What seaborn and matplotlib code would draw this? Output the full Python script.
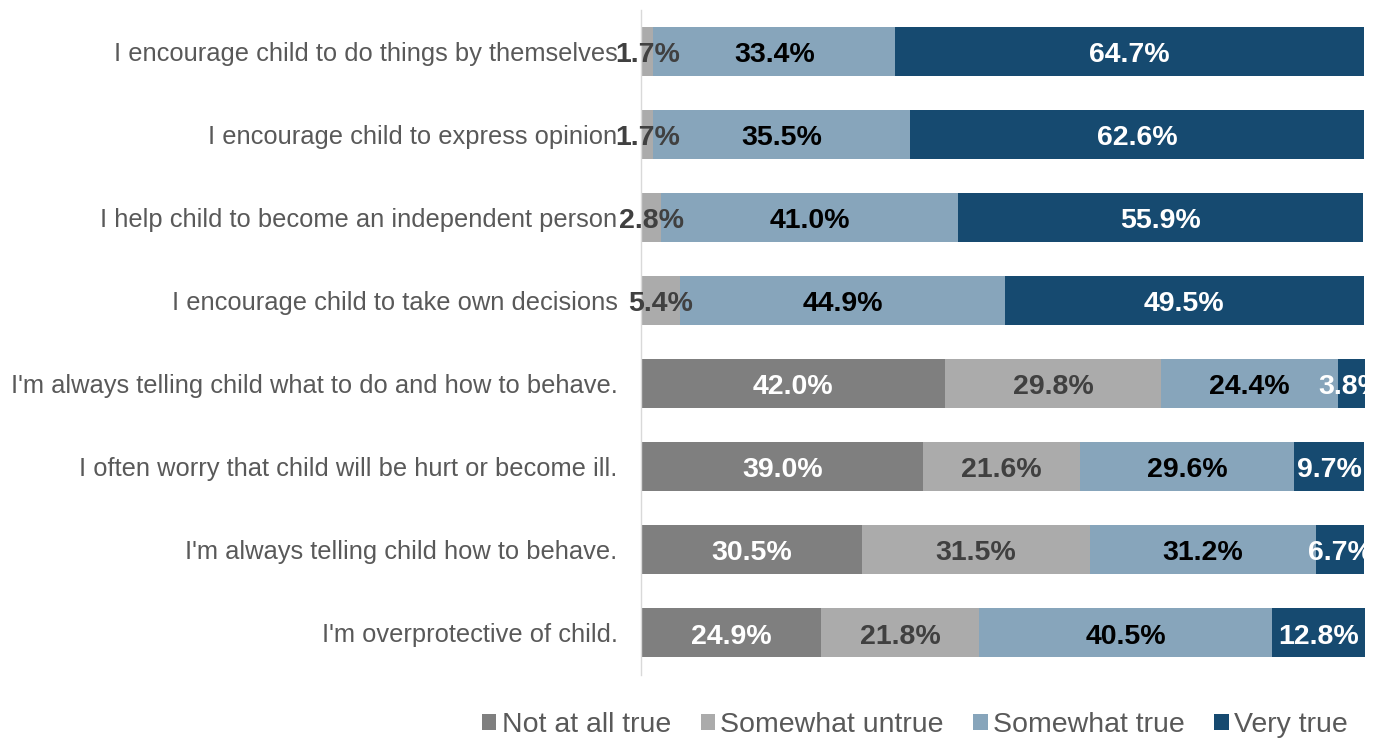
import numpy as np
import pandas as pd
import seaborn as sns
import matplotlib.pyplot as plt
from matplotlib.patches import Patch
from matplotlib.transforms import Bbox, TransformedBbox

# Survey items (top to bottom)
items = [
    "I encourage child to do things by themselves",
    "I encourage child to express opinion",
    "I help child to become an independent person",
    "I encourage child to take own decisions",
    "I'm always telling child what to do and how to behave.",
    "I often worry that child will be hurt or become ill.",
    "I'm always telling child how to behave.",
    "I'm overprotective of child.",
]

responses = ["Not at all true", "Somewhat untrue", "Somewhat true", "Very true"]

# Percent of respondents per response level
not_at_all_true = [0.0, 0.0, 0.0, 0.0, 42.0, 39.0, 30.5, 24.9]
somewhat_untrue = [1.7, 1.7, 2.8, 5.4, 29.8, 21.6, 31.5, 21.8]
somewhat_true = [33.4, 35.5, 41.0, 44.9, 24.4, 29.6, 31.2, 40.5]
very_true = [64.7, 62.6, 55.9, 49.5, 3.8, 9.7, 6.7, 12.8]

series = [not_at_all_true, somewhat_untrue, somewhat_true, very_true]
colors = ["#7f7f7f", "#ababab", "#87a5bb", "#164a70"]
label_colors = ["white", "#404040", "black", "white"]

sns.set_theme(style="white")
plt.rcParams["font.family"] = ["Liberation Sans", "DejaVu Sans"]

df = pd.DataFrame({"item": items})
for name, vals in zip(responses, series):
    df[name] = vals
cum = df[responses].cumsum(axis=1)
df_cum = pd.concat([df[["item"]], cum], axis=1)

fig = plt.figure(figsize=(13.78, 7.38), dpi=100)
ax = fig.add_axes([0.4652, 0.086, 0.5254, 0.901])

# Stacked bars: draw cumulative totals from the outermost level inward
for name, col in reversed(list(zip(responses, colors))):
    sns.barplot(data=df_cum, x=name, y="item", order=items, color=col,
                orient="h", width=0.59, linewidth=0, saturation=1, ax=ax)

ax.set_xlim(0, 100)
ax.set_ylim(len(items) - 0.5, -0.5)
ax.set_xlabel("")
ax.set_ylabel("")
ax.set_xticks([])

# Value labels centred on each segment; clipped only at the right edge
clip = TransformedBbox(Bbox([[-0.5, -0.1], [1.0, 1.1]]), ax.transAxes)
for i in range(len(items)):
    start = 0.0
    for k, vals in enumerate(series):
        v = vals[i]
        if v > 0:
            t = ax.text(start + v / 2, i + 0.127, f"{v:.1f}%", ha="center",
                        va="baseline", fontsize=20.5, fontweight="bold",
                        color=label_colors[k])
            t.set_clip_box(clip)
            t.set_clip_on(True)
        start += v

ax.tick_params(axis="y", length=0, pad=17, labelsize=18.4, labelcolor="#595959")

for side in ["top", "right", "bottom"]:
    ax.spines[side].set_visible(False)
ax.spines["left"].set_color("#d9d9d9")
ax.spines["left"].set_linewidth(1.0)

handles = [Patch(facecolor=c, edgecolor="none", label=r) for r, c in zip(responses, colors)]
fig.legend(handles=handles, loc="center", bbox_to_anchor=(0.664, 0.017), ncol=4,
           frameon=False, fontsize=20.5, handlelength=0.5, handleheight=0.5,
           handletextpad=0.2, columnspacing=1.03, labelcolor="#595959",
           borderaxespad=0, borderpad=0)

fig.savefig("out.png", dpi=100)
